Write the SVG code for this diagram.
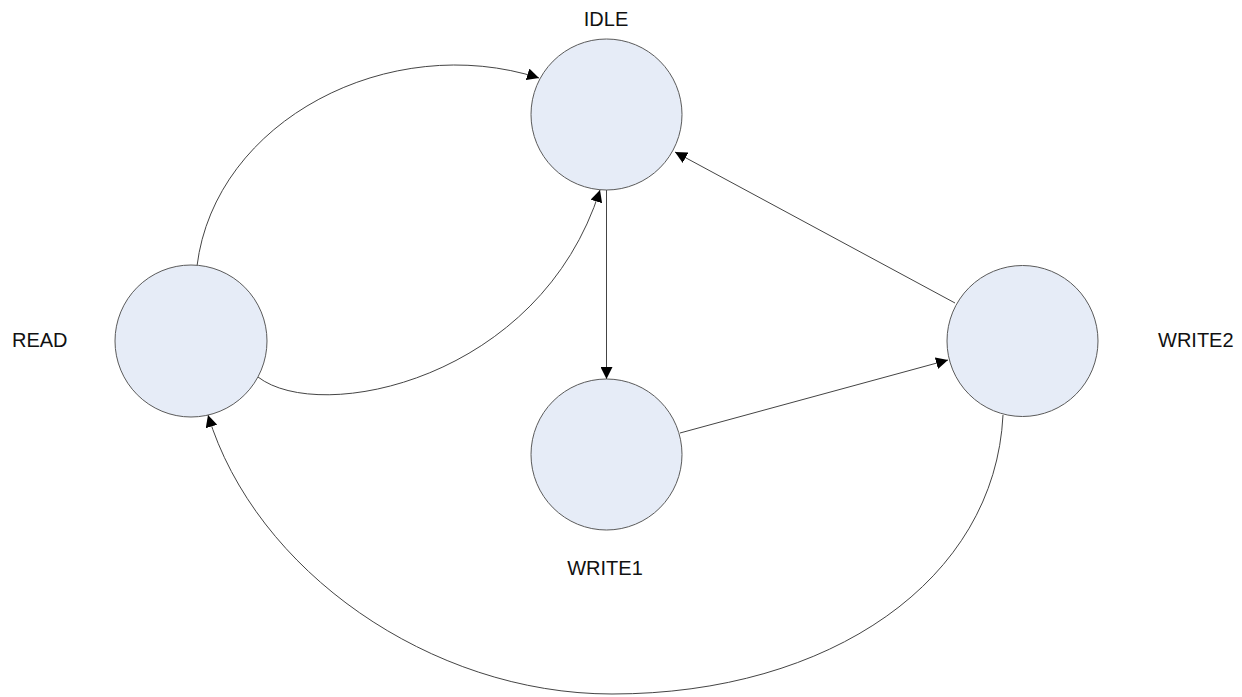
<svg xmlns="http://www.w3.org/2000/svg" width="1242" height="697" viewBox="0 0 1242 697">
<style>
.node{fill:#E6ECF7;stroke:#5a5a5a;stroke-width:1}
.lbl{font-family:"Liberation Sans",Arial,sans-serif;font-size:20px;fill:#111}
.edge{fill:none;stroke:#444;stroke-width:1;marker-end:url(#arr)}
</style>
<defs>
<marker id="arr" viewBox="0 0 10 10" refX="10" refY="5" markerWidth="12" markerHeight="12" markerUnits="userSpaceOnUse" orient="auto">
<path d="M0,0 L10,5 L0,10 z" fill="#000"/>
</marker>
</defs>
<rect width="1242" height="697" fill="#fff"/>
<g id="connectors">
<path class="edge" d="M197,266 C215,120 390,30 539,78"/>
<path class="edge" d="M258,377 C320,425 540,380 600,190"/>
<path class="edge" d="M606.5,190 L606.5,379"/>
<path class="edge" d="M680,433 L948,360"/>
<path class="edge" d="M955,303 L675,152"/>
<path class="edge" d="M1003,415 C995,580 830,694 612,694 C430,694 255,570 208,415"/>
</g>
<g id="idle">
<circle class="node" cx="606.5" cy="114.5" r="75.5"/>
<text class="lbl" x="606" y="26" text-anchor="middle">IDLE</text>
</g>
<g id="read">
<circle class="node" cx="191" cy="341" r="76"/>
<text class="lbl" x="12" y="347">READ</text>
</g>
<g id="write1">
<circle class="node" cx="606.5" cy="454.5" r="75.5"/>
<text class="lbl" x="605" y="575" text-anchor="middle">WRITE1</text>
</g>
<g id="write2">
<circle class="node" cx="1022.5" cy="341" r="75.5"/>
<text class="lbl" x="1158" y="347">WRITE2</text>
</g>
</svg>
